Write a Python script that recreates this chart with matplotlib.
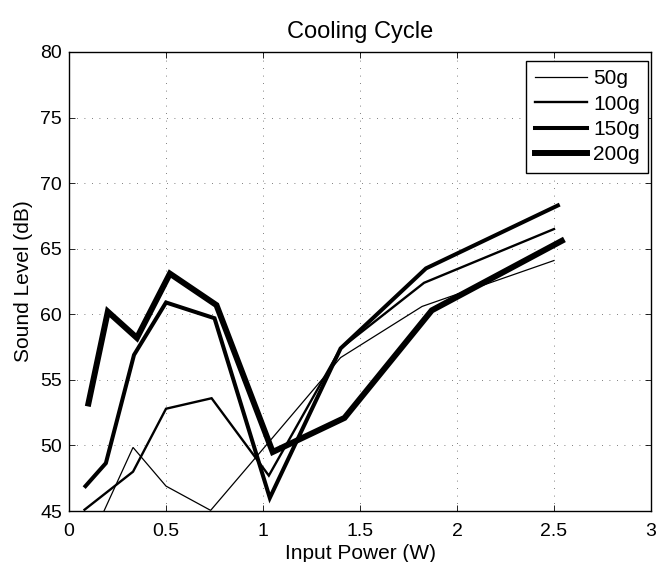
import matplotlib
matplotlib.use("Agg")
import matplotlib.pyplot as plt

plt.rcParams["font.family"] = ["Liberation Sans", "DejaVu Sans"]

# measured input power (W) and sound level (dB) per load
x_50g = [0.10, 0.33, 0.50, 0.73, 1.05, 1.40, 1.82, 2.50]
y_50g = [42.4, 49.85, 46.9, 45.05, 50.6, 56.7, 60.6, 64.1]

x_100g = [0.08, 0.33, 0.50, 0.735, 1.03, 1.40, 1.83, 2.50]
y_100g = [45.1, 48.0, 52.8, 53.6, 47.7, 57.4, 62.4, 66.5]

x_150g = [0.085, 0.19, 0.335, 0.50, 0.75, 1.035, 1.40, 1.84, 2.52]
y_150g = [46.9, 48.65, 56.9, 60.9, 59.7, 46.0, 57.4, 63.5, 68.3]

x_200g = [0.10, 0.20, 0.35, 0.52, 0.76, 1.05, 1.42, 1.87, 2.54]
y_200g = [53.2, 60.2, 58.2, 63.1, 60.7, 49.5, 52.1, 60.3, 65.6]

labels = ["50g", "100g", "150g", "200g"]
widths = [0.9, 1.7, 2.9, 4.3]

fig = plt.figure(figsize=(6.56, 5.62), dpi=100)
ax = fig.add_axes([0.1052, 0.0907, 0.8872, 0.8168])

series = [(x_50g, y_50g), (x_100g, y_100g), (x_150g, y_150g), (x_200g, y_200g)]
for (xs, ys), lab, lw in zip(series, labels, widths):
    ax.plot(xs, ys, color="black", linewidth=lw, label=lab, solid_joinstyle="miter")

ax.set_xlim(0, 3)
ax.set_ylim(45, 80)
ax.set_xticks([0, 0.5, 1, 1.5, 2, 2.5, 3])
ax.set_xticklabels(["0", "0.5", "1", "1.5", "2", "2.5", "3"])
ax.set_yticks([45, 50, 55, 60, 65, 70, 75, 80])

ax.grid(True, color="#555555", linestyle=(0, (1, 8)), linewidth=0.6)
ax.tick_params(direction="in", length=4, width=0.6, top=True, right=True,
               labelsize=14)
ax.tick_params(axis="x", pad=8.5)
ax.tick_params(axis="y", pad=5)
for sp in ax.spines.values():
    sp.set_linewidth(1.0)

ax.set_title("Cooling Cycle", fontsize=17, pad=10)
ax.set_xlabel("Input Power (W)", fontsize=15, labelpad=3)
ax.set_ylabel("Sound Level (dB)", fontsize=15, labelpad=5)

leg = ax.legend(loc="upper right", bbox_to_anchor=(0.995, 0.98), borderaxespad=0,
                fontsize=15, handlelength=2.5, handletextpad=0.3, labelspacing=0.3,
                borderpad=0.4, fancybox=False, framealpha=1, edgecolor="black")
leg.get_frame().set_linewidth(1.0)

fig.savefig("out.png", dpi=100)
